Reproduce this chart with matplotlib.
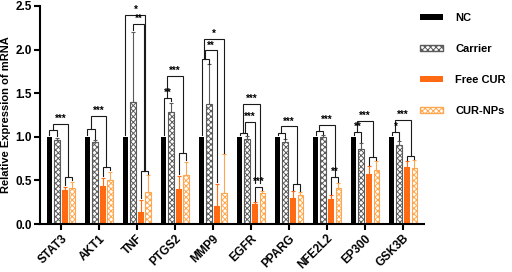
import matplotlib as mpl
mpl.use('agg')
import matplotlib.pyplot as plt
from matplotlib.patches import Patch
import numpy as np

plt.rcParams['font.family'] = ['Liberation Sans', 'DejaVu Sans']
plt.rcParams['font.weight'] = 'bold'
plt.rcParams['hatch.linewidth'] = 0.7

genes = ['STAT3', 'AKT1', 'TNF', 'PTGS2', 'MMP9', 'EGFR', 'PPARG', 'NFE2L2', 'EP300', 'GSK3B']
nc = [1.0, 1.0, 1.0, 1.0, 1.0, 1.0, 1.0, 1.0, 1.0, 1.0]
carrier = [0.96, 0.94, 1.40, 1.28, 1.38, 0.98, 0.94, 1.00, 0.86, 0.91]
carrier_err = [0.03, 0.02, 0.80, 0.11, 0.45, 0.03, 0.03, 0.02, 0.07, 0.04]
free = [0.39, 0.44, 0.14, 0.40, 0.21, 0.23, 0.30, 0.29, 0.57, 0.65]
free_err = [0.04, 0.09, 0.14, 0.15, 0.25, 0.02, 0.08, 0.04, 0.10, 0.07]
nps = [0.41, 0.50, 0.37, 0.56, 0.36, 0.36, 0.33, 0.41, 0.62, 0.64]
nps_err = [0.07, 0.10, 0.19, 0.15, 0.44, 0.02, 0.04, 0.06, 0.10, 0.10]

# significance brackets: (gene, x offset 1, y 1, x offset 2, y 2, height, label)
NC, CA, FR, NP, L, R = -0.3, -0.1, 0.1, 0.3, -0.2, 0.2
brackets = [
    (0, NC, 1.02, CA, 1.01, 1.08, ''), (0, L, 1.08, R, 0.54, 1.15, '***'), (0, FR, 0.45, NP, 0.50, 0.54, ''),
    (1, NC, 1.02, CA, 0.98, 1.09, ''), (1, L, 1.09, R, 0.65, 1.24, '***'), (1, FR, 0.55, NP, 0.62, 0.65, ''),
    (2, NC, 1.02, 0.22, 0.61, 2.40, '*'), (2, CA, 2.22, 0.18, 0.61, 2.29, '**'), (2, FR, 0.30, NP, 0.58, 0.61, ''),
    (3, NC, 1.02, CA, 1.41, 1.45, '**'), (3, L, 1.45, R, 0.81, 1.70, '***'), (3, FR, 0.57, NP, 0.73, 0.81, ''),
    (4, NC, 1.02, CA, 1.84, 1.89, ''), (4, L, 1.89, FR, 0.48, 1.99, '**'), (4, -0.24, 1.89, NP, 0.82, 2.12, '*'),
    (5, NC, 1.02, CA, 1.02, 1.05, ''), (5, L, 1.05, 0.24, 0.47, 1.38, '***'), (5, -0.16, 1.05, FR, 0.47, 1.17, '***'),
    (5, FR, 0.27, NP, 0.39, 0.43, '***'),
    (6, NC, 1.02, CA, 0.98, 1.05, ''), (6, L, 1.05, R, 0.46, 1.12, '***'), (6, FR, 0.39, NP, 0.38, 0.46, ''),
    (7, NC, 1.02, CA, 1.03, 1.07, ''), (7, L, 1.07, R, 0.54, 1.14, '***'), (7, FR, 0.34, NP, 0.48, 0.54, '**'),
    (8, NC, 1.02, CA, 0.94, 1.06, '**'), (8, L, 1.06, R, 0.77, 1.18, '***'), (8, FR, 0.68, NP, 0.73, 0.77, ''),
    (9, NC, 1.02, CA, 0.96, 1.06, '*'), (9, L, 1.06, R, 0.78, 1.19, '***'), (9, FR, 0.73, NP, 0.75, 0.78, ''),
]

x = np.arange(len(genes))
w = 0.15
orange = '#ff6a13'
light = '#ffa74f'
gray = '#5a5a5a'

fig = plt.figure(figsize=(5.12, 2.72), dpi=100)
ax = fig.add_axes([0.078, 0.176, 0.75, 0.802])

ax.bar(x + NC, nc, w, color='black', label='NC')
ax.bar(x + CA, carrier, w, color='white', edgecolor=gray, hatch='xxxxxx', linewidth=0.8, label='Carrier')
ax.bar(x + FR, free, w, color=orange, label='Free CUR')
ax.bar(x + NP, nps, w, color='white', edgecolor=light, hatch='xxxxxx', linewidth=0.8, label='CUR-NPs')

z = np.zeros(len(genes))
ax.errorbar(x + CA, carrier, yerr=[z, carrier_err], fmt='none', ecolor=gray, elinewidth=0.8, capsize=1.5, capthick=0.8)
ax.errorbar(x + FR, free, yerr=[z, free_err], fmt='none', ecolor=orange, elinewidth=0.8, capsize=1.5, capthick=0.8)
ax.errorbar(x + NP, nps, yerr=[z, nps_err], fmt='none', ecolor=light, elinewidth=0.8, capsize=1.5, capthick=0.8)

for g, o1, y1, o2, y2, h, lab in brackets:
    xa, xb = g + o1, g + o2
    ax.plot([xa, xa, xb, xb], [y1, h, h, y2], color='#1a1a1a', lw=0.8, solid_joinstyle='miter')
    if lab:
        ax.annotate(lab, ((xa + xb) / 2, h), xytext=(0, 0), textcoords='offset points',
                    ha='center', va='bottom', fontsize=7, fontweight='bold')

ax.set_xlim(-0.55, 9.55)
ax.set_ylim(0, 2.5)
ax.set_yticks([0, 0.5, 1.0, 1.5, 2.0, 2.5])
ax.set_yticklabels(['0.0', '0.5', '1.0', '1.5', '2.0', '2.5'], fontsize=8.5, fontweight='bold')
ax.set_xticks(x)
ax.set_xticklabels(genes, rotation=45, ha='right', rotation_mode='anchor', fontsize=8.5, fontweight='bold')
ax.set_ylabel('Relative Expression of mRNA', fontsize=8, fontweight='bold', labelpad=3)
ax.spines['top'].set_visible(False)
ax.spines['right'].set_visible(False)
ax.spines['left'].set_linewidth(1.5)
ax.spines['bottom'].set_linewidth(1.5)
ax.tick_params(axis='both', width=1.5, length=4, pad=2)

handles = [Patch(facecolor='black', label='NC'),
           Patch(facecolor='white', edgecolor=gray, hatch='xxxxxx', label='Carrier'),
           Patch(facecolor=orange, label='Free CUR'),
           Patch(facecolor='white', edgecolor=light, hatch='xxxxxx', label='CUR-NPs')]
fig.legend(handles=handles, loc='upper left', bbox_to_anchor=(0.80, 0.99), frameon=False,
           fontsize=8, handlelength=2.1, handleheight=0.4, labelspacing=1.9, handletextpad=1.1)

plt.savefig('out.png', dpi=100)
